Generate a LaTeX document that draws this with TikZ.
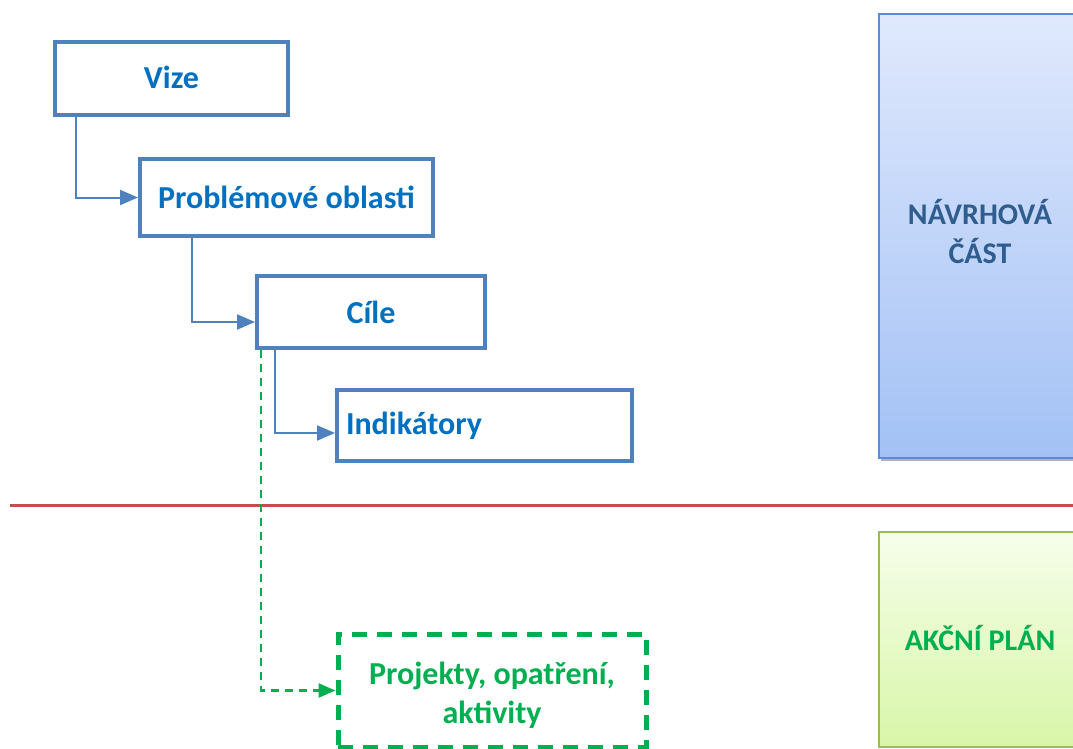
\documentclass[tikz,border=0pt]{standalone}
\usepackage{fontspec}
\setmainfont{Carlito}
\usetikzlibrary{arrows.meta,positioning}
\definecolor{boxblue}{HTML}{4F81BD}
\definecolor{txtblue}{HTML}{0070C0}
\definecolor{grn}{HTML}{00B050}
\definecolor{redline}{HTML}{C0504D}
\definecolor{navtop}{HTML}{E0E9FD}
\definecolor{navbot}{HTML}{A3C1F5}
\definecolor{navborder}{HTML}{5B8BD1}
\definecolor{navtxt}{HTML}{2F5D8E}
\definecolor{aktop}{HTML}{F6FEEA}
\definecolor{akbot}{HTML}{D8F6A8}
\definecolor{akborder}{HTML}{9BBB59}
\tikzset{
  bigfont/.style={font=\fontsize{32pt}{39pt}\selectfont\bfseries},
  sidefont/.style={font=\fontsize{30pt}{39pt}\selectfont\bfseries},
  levelbox/.style={draw=boxblue, line width=4pt, fill=white, text=txtblue, bigfont, inner sep=0pt},
  conn/.style={draw=boxblue, line width=2pt, -{Triangle[length=18pt,width=15pt]}},
  greenconn/.style={draw=grn, line width=2.5pt, dash pattern=on 8pt off 6pt, -{Triangle[length=17pt,width=14pt]}},
}
\begin{document}
\begin{tikzpicture}[x=1pt,y=-1pt]
\useasboundingbox (0,0) rectangle (1073,749);
\clip (0,0) rectangle (1073,749);
\fill[white] (0,0) rectangle (1073,749);
% right side panels
\fill[gray!60] (881,16) rectangle (1080,461);
\shade[top color=navtop, bottom color=navbot, draw=navborder, line width=1.5pt] (879,14) rectangle (1085,458);
\node[sidefont, text=navtxt, align=center] (nav) at (980,232) {NÁVRHOVÁ\\ČÁST};
\shade[top color=aktop, bottom color=akbot, draw=akborder, line width=2pt] (879,532) rectangle (1085,747);
\node[sidefont, text=grn] (ak) at (980,638) {AKČNÍ PLÁN};
% separator
\draw[redline, line width=3pt] (10,505) -- (1073,505);
% level boxes
\node[levelbox, minimum width=233pt, minimum height=73pt] (vize) at (171.5,78.5) {\raisebox{2pt}{Vize}};
\node[levelbox, minimum width=293pt, minimum height=77pt] (prob) at (286.5,197.5) {Problémové oblasti};
\node[levelbox, minimum width=228pt, minimum height=72pt] (cile) at (371,312) {Cíle};
\node[levelbox, minimum height=71pt, inner xsep=9pt, text width=277pt, align=left] (ind) at (484.5,425.5) {Indikátory};
\node[draw=grn, line width=5pt, dash pattern=on 15pt off 10pt, text=grn, bigfont, align=center, minimum width=308pt, minimum height=113pt, inner sep=0pt] (proj) at (492,690.5) {\rule{0pt}{32pt}Projekty, opatření,\\aktivity};
% connectors
\draw[conn] ([xshift=23pt]vize.south west) |- (prob.west);
\draw[conn] ([xshift=54pt]prob.south west) |- ([yshift=-10pt]cile.west);
\draw[conn] ([xshift=20pt]cile.south west) |- ([yshift=-7.5pt]ind.west);
\draw[greenconn] ([xshift=6pt]cile.south west) |- (proj.west);
\end{tikzpicture}
\end{document}
